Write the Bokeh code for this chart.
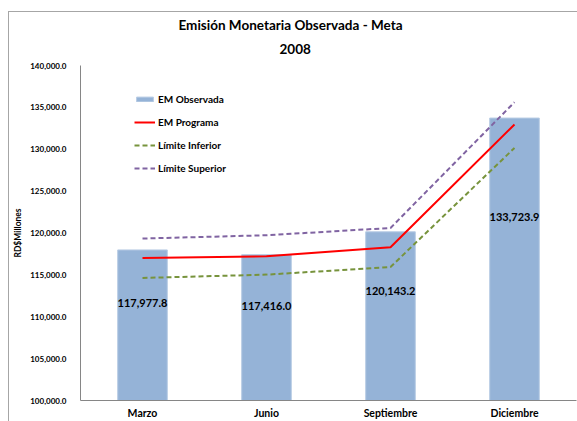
from bokeh.plotting import figure
from bokeh.models import (ColumnDataSource, FactorRange, Range1d, NumeralTickFormatter,
                          Legend, LegendItem, LabelSet, FixedTicker, Title)
from bokeh.core.properties import value
from bokeh.embed import file_html
from bokeh.resources import INLINE

# ---- data ----
categories = ["Marzo", "Junio", "Septiembre", "Diciembre"]
em_observada = [117977.8, 117416.0, 120143.2, 133723.9]
em_programa = [117020, 117220, 118300, 132960]
limite_inferior = [114630, 115030, 115940, 130160]
limite_superior = [119340, 119730, 120600, 135620]
y_ticks = [100000, 105000, 110000, 115000, 120000, 125000, 130000, 135000, 140000]
title_line1 = "Emisión Monetaria Observada - Meta"
title_line2 = "2008"

FONT = "Lato"
W, H = 577, 421
BL, BT, BB, BR = 80, 65, 21, 1   # frame borders

label_txt = ["{:,.1f}".format(v) for v in em_observada]
label_y = [v - 0.35 * (v - y_ticks[0]) for v in em_observada]

src = ColumnDataSource(dict(cat=categories, obs=em_observada, prog=em_programa,
                            inf=limite_inferior, sup=limite_superior,
                            lab=label_txt, laby=label_y))

p = figure(x_range=FactorRange(*categories), y_range=Range1d(y_ticks[0], y_ticks[-1]),
           width=W, height=H, output_backend="svg", toolbar_location=None,
           min_border_left=BL, min_border_right=BR, min_border_top=BT, min_border_bottom=BB)
p.outline_line_color = None
p.xgrid.grid_line_color = None
p.ygrid.grid_line_color = None
p.background_fill_color = "white"
p.border_fill_color = None
# thin grey chart-area border (top and left edges visible in the reference)
p.styles = {"background": ("linear-gradient(#A6A6A6,#A6A6A6) 8px 11px / 1px 100% no-repeat, "
                           "linear-gradient(#A6A6A6,#A6A6A6) 8px 11px / 100% 1px no-repeat, white")}

bars = p.vbar(x="cat", top="obs", bottom=y_ticks[0], width=0.4, source=src,
              fill_color="#95B3D7", line_color="#B8CCE4", line_width=1)
l_prog = p.line(x="cat", y="prog", source=src, line_color="#FF0000", line_width=2)
l_inf = p.line(x="cat", y="inf", source=src, line_color="#77933C", line_width=2, line_dash="5 3")
l_sup = p.line(x="cat", y="sup", source=src, line_color="#8064A2", line_width=2, line_dash="5 3")

labels = LabelSet(x="cat", y="laby", text="lab", source=src, text_align="center",
                  text_baseline="middle", text_font=value(FONT), text_font_style="bold",
                  text_font_size="11px", text_color="black")
p.add_layout(labels)

# axes
p.yaxis.ticker = FixedTicker(ticks=y_ticks)
p.yaxis.formatter = NumeralTickFormatter(format="0,0.0")
for ax in (p.xaxis[0], p.yaxis[0]):
    ax.axis_line_color = "#868686"
    ax.major_tick_line_color = None
    ax.minor_tick_line_color = None
    ax.major_tick_out = 0
    ax.major_label_text_font = FONT
    ax.major_label_text_font_style = "bold"
    ax.major_label_text_color = "black"
p.yaxis.major_label_text_font_size = "8px"
p.yaxis.major_label_standoff = 14
p.yaxis.axis_label = "RD$Millones"
p.yaxis.axis_label_text_font = FONT
p.yaxis.axis_label_text_font_style = "bold"
p.yaxis.axis_label_text_font_size = "8.5px"
p.yaxis.axis_label_text_color = "black"
p.yaxis.axis_label_standoff = 4
p.xaxis.major_label_text_font_size = "10.5px"
p.xaxis.major_label_standoff = 6

legend = Legend(items=[LegendItem(label="EM Observada", renderers=[bars]),
                       LegendItem(label="EM Programa", renderers=[l_prog]),
                       LegendItem(label="Límite Inferior", renderers=[l_inf]),
                       LegendItem(label="Límite Superior", renderers=[l_sup])],
                location=(54, 226), padding=0, margin=0, spacing=11,
                glyph_width=21, glyph_height=6, label_height=12, label_standoff=3,
                border_line_color=None, background_fill_alpha=0,
                label_text_font=FONT, label_text_font_style="bold",
                label_text_font_size="10px", label_text_color="black")
p.add_layout(legend)

# titles (first added sits nearest the frame)
p.add_layout(Title(text=title_line2, align="left", offset=199, standoff=24,
                   text_font=FONT, text_font_style="bold", text_font_size="13.5px",
                   text_color="black"), "above")
p.add_layout(Title(text=title_line1, align="left", offset=98, standoff=-6,
                   text_font=FONT, text_font_style="bold", text_font_size="13.5px",
                   text_color="black"), "above")

open("out.html", "w").write(file_html(p, INLINE))
